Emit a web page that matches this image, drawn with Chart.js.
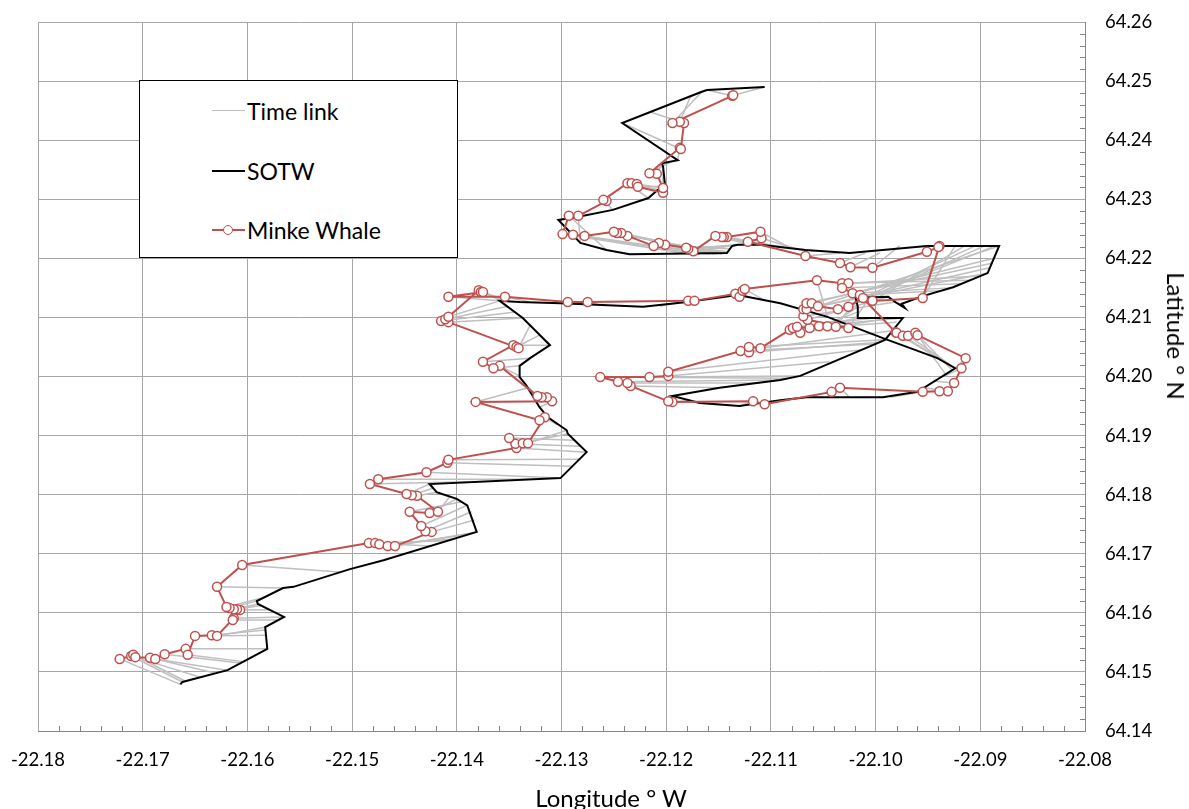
<!DOCTYPE html>
<html>
<head>
<meta charset="utf-8">
<script src="https://cdn.jsdelivr.net/npm/chart.js@4.4.1/dist/chart.umd.min.js"></script>
<style>
  html, body { margin: 0; padding: 0; background: #fff; }
  #wrap { position: relative; width: 1189px; height: 809px; font-family: Lato, "Liberation Sans", sans-serif; color: #000; }
  #chart { position: absolute; left: 0; top: 0; }
  .legend { position: absolute; left: 139px; top: 80px; width: 317px; height: 176px; border: 1px solid #000; background: #fff; }
  .item { position: absolute; left: 72px; height: 30px; display: flex; align-items: center; font-size: 23px; white-space: nowrap; }
  .swatch { position: relative; width: 33px; height: 30px; margin-right: 2px; }
  .swatch .ln { position: absolute; left: 0; right: 0; top: 50%; }
  .swatch .dot { position: absolute; left: 11px; top: 10px; width: 8px; height: 8px; border: 1.5px solid #c0504d; border-radius: 50%; background: #fff; }
  .axis-title { position: absolute; font-size: 24px; white-space: nowrap; line-height: 1; }
</style>
</head>
<body>
<div id="wrap">
  <canvas id="chart" width="1189" height="809"></canvas>
  <div class="legend">
    <div class="item" style="top:15px"><div class="swatch"><div class="ln" style="border-top:1.5px solid #bfbfbf;margin-top:-1px"></div></div>Time link</div>
    <div class="item" style="top:75px"><div class="swatch"><div class="ln" style="border-top:2px solid #000;margin-top:-1px"></div></div>SOTW</div>
    <div class="item" style="top:134px"><div class="swatch"><div class="ln" style="border-top:2px solid #c0504d;margin-top:-1px"></div><div class="dot"></div></div>Minke Whale</div>
  </div>
  <div class="axis-title" id="xTitle" style="left:611px;top:798px;transform:translate(-50%,-50%)">Longitude ° W</div>
  <div class="axis-title" id="yTitle" style="left:1176px;top:336px;transform:translate(-50%,-50%) rotate(90deg)">Latitude ° N</div>
</div>
<script>
// Axis ticks
const xTicks = [-22.18, -22.17, -22.16, -22.15, -22.14, -22.13, -22.12, -22.11, -22.10, -22.09, -22.08];
const yTicks = [64.14, 64.15, 64.16, 64.17, 64.18, 64.19, 64.20, 64.21, 64.22, 64.23, 64.24, 64.25, 64.26];

// Minke whale fixes (in time order)
const whaleLon = [
  -22.1722,-22.1711,-22.1709,-22.1707,-22.1693,-22.1688,-22.1679,-22.1659,-22.1657,-22.1650,
  -22.1634,-22.1629,-22.1613,-22.1614,-22.1607,-22.1610,-22.1613,-22.1617,-22.1620,-22.1629,
  -22.1605,-22.1484,-22.1478,-22.1474,-22.1466,-22.1459,-22.1424,-22.1430,-22.1434,-22.1445,
  -22.1426,-22.1418,-22.1438,-22.1443,-22.1448,-22.1483,-22.1475,-22.1429,-22.1409,-22.1408,
  -22.1343,-22.1344,-22.1350,-22.1337,-22.1332,-22.1316,-22.1321,-22.1382,-22.1309,-22.1314,
  -22.1319,-22.1323,-22.1359,-22.1365,-22.1375,-22.1346,-22.1343,-22.1341,-22.1408,-22.1415,
  -22.1411,-22.1408,-22.1379,-22.1377,-22.1375,-22.1408,-22.1354,-22.1294,-22.1275,-22.1179,
  -22.1173,-22.1134,-22.1130,-22.1127,-22.1125,-22.1056,-22.1032,-22.1026,-22.1032,-22.1022,
  -22.1015,-22.0981,-22.0980,-22.0974,-22.0969,-22.0962,-22.0960,-22.0914,-22.0918,-22.0925,
  -22.0931,-22.0939,-22.0955,-22.1034,-22.1042,-22.1106,-22.1117,-22.1194,-22.1198,-22.1234,
  -22.1237,-22.1246,-22.1263,-22.1216,-22.1198,-22.1198,-22.1129,-22.1121,-22.1121,-22.1110,
  -22.1082,-22.1079,-22.1072,-22.1075,-22.1063,-22.1054,-22.1046,-22.1038,-22.1026,-22.1065,
  -22.1069,-22.1069,-22.1066,-22.1066,-22.1061,-22.1055,-22.1036,-22.1026,-22.1012,-22.1003,
  -22.0955,-22.0939,-22.0940,-22.0951,-22.1003,-22.1024,-22.1034,-22.1067,-22.1122,-22.1109,
  -22.1110,-22.1142,-22.1145,-22.1147,-22.1153,-22.1174,-22.1179,-22.1181,-22.1201,-22.1207,
  -22.1212,-22.1237,-22.1243,-22.1247,-22.1250,-22.1278,-22.1289,-22.1299,-22.1293,-22.1284,
  -22.1257,-22.1260,-22.1237,-22.1233,-22.1228,-22.1227,-22.1203,-22.1203,-22.1209,-22.1216,
  -22.1187,-22.1186,-22.1183,-22.1187,-22.1194,-22.1137,-22.1136
];
const whaleLat = [
  64.1522,64.1527,64.1529,64.1525,64.1524,64.1522,64.1530,64.1539,64.1529,64.1561,
  64.1562,64.1561,64.1591,64.1588,64.1605,64.1606,64.1606,64.1608,64.1610,64.1644,
  64.1681,64.1718,64.1718,64.1716,64.1713,64.1713,64.1737,64.1738,64.1747,64.1771,
  64.1769,64.1771,64.1798,64.1799,64.1801,64.1818,64.1826,64.1838,64.1854,64.1859,
  64.1879,64.1886,64.1896,64.1887,64.1887,64.1931,64.1926,64.1957,64.1958,64.1965,
  64.1965,64.1967,64.2018,64.2014,64.2025,64.2053,64.2050,64.2048,64.2092,64.2094,
  64.2097,64.2101,64.2146,64.2143,64.2143,64.2135,64.2135,64.2126,64.2126,64.2128,
  64.2128,64.2140,64.2135,64.2145,64.2148,64.2163,64.2158,64.2158,64.2150,64.2141,
  64.2138,64.2075,64.2074,64.2069,64.2069,64.2074,64.2070,64.2031,64.2014,64.1989,
  64.1975,64.1975,64.1974,64.1981,64.1974,64.1953,64.1958,64.1957,64.1958,64.1984,
  64.1989,64.1991,64.1999,64.1999,64.2001,64.2008,64.2043,64.2041,64.2050,64.2048,
  64.2079,64.2082,64.2074,64.2084,64.2082,64.2085,64.2085,64.2084,64.2082,64.2096,
  64.2102,64.2114,64.2114,64.2124,64.2124,64.2119,64.2114,64.2118,64.2133,64.2128,
  64.2133,64.2221,64.2219,64.2211,64.2184,64.2185,64.2192,64.2204,64.2228,64.2234,
  64.2245,64.2236,64.2236,64.2236,64.2238,64.2212,64.2216,64.2218,64.2223,64.2226,
  64.2221,64.2238,64.2243,64.2243,64.2245,64.2238,64.2240,64.2241,64.2272,64.2272,
  64.2297,64.2299,64.2327,64.2327,64.2326,64.2321,64.2311,64.2319,64.2343,64.2344,
  64.2387,64.2385,64.2429,64.2431,64.2429,64.2475,64.2476
];

// Ship track (SOTW)
const shipLon = [
  -22.1664,-22.1662,-22.1619,-22.1581,-22.1583,-22.1565,-22.1590,-22.1591,-22.1566,-22.1556,
  -22.1502,-22.1470,-22.1381,-22.1390,-22.1400,-22.1419,-22.1426,-22.1301,-22.1276,-22.1294,
  -22.1295,-22.1313,-22.1321,-22.1334,-22.1340,-22.1340,-22.1330,-22.1311,-22.1337,-22.1359,
  -22.1340,-22.1301,-22.1222,-22.1180,-22.1132,-22.1123,-22.1091,-22.1046,-22.0993,-22.0941,
  -22.0924,-22.0960,-22.0993,-22.1066,-22.1091,-22.1130,-22.1168,-22.1194,-22.1149,-22.1091,
  -22.1072,-22.0991,-22.0974,-22.1017,-22.1017,-22.1019,-22.0988,-22.0981,-22.0972,-22.0975,
  -22.0955,-22.0926,-22.0893,-22.0882,-22.0951,-22.1025,-22.1067,-22.1110,-22.1132,-22.1137,
  -22.1142,-22.1235,-22.1257,-22.1282,-22.1303,-22.1285,-22.1251,-22.1217,-22.1208,-22.1201,
  -22.1203,-22.1204,-22.1189,-22.1242,-22.1166,-22.1161,-22.1106
];
const shipLat = [
  64.1479,64.1483,64.1503,64.1539,64.1576,64.1593,64.1615,64.1620,64.1642,64.1644,
  64.1674,64.1689,64.1737,64.1782,64.1793,64.1804,64.1818,64.1828,64.1872,64.1903,
  64.1909,64.1931,64.1948,64.1986,64.1999,64.2018,64.2031,64.2053,64.2099,64.2128,
  64.2126,64.2124,64.2118,64.2126,64.2138,64.2135,64.2124,64.2101,64.2065,64.2031,
  64.2014,64.1974,64.1965,64.1965,64.1960,64.1950,64.1955,64.1967,64.1981,64.1994,
  64.2001,64.2062,64.2099,64.2099,64.2118,64.2133,64.2135,64.2126,64.2116,64.2123,
  64.2136,64.2151,64.2175,64.2221,64.2221,64.2209,64.2214,64.2223,64.2223,64.2221,
  64.2209,64.2207,64.2214,64.2226,64.2265,64.2270,64.2282,64.2302,64.2316,64.2322,
  64.2355,64.2361,64.2366,64.2429,64.2482,64.2485,64.2490
];

// Ship position at the time of each whale fix
const linkLon = [
  -22.1664,-22.1662,-22.1660,-22.1645,-22.1631,-22.1619,-22.1607,-22.1581,-22.1602,-22.1582,
  -22.1583,-22.1582,-22.1565,-22.1571,-22.1578,-22.1586,-22.1590,-22.1591,-22.1586,-22.1566,
  -22.1512,-22.1426,-22.1411,-22.1402,-22.1391,-22.1381,-22.1383,-22.1386,-22.1390,-22.1395,
  -22.1400,-22.1407,-22.1419,-22.1423,-22.1426,-22.1359,-22.1321,-22.1301,-22.1290,-22.1282,
  -22.1276,-22.1282,-22.1288,-22.1294,-22.1295,-22.1304,-22.1313,-22.1332,-22.1321,-22.1325,
  -22.1330,-22.1334,-22.1338,-22.1340,-22.1330,-22.1311,-22.1321,-22.1330,-22.1337,-22.1344,
  -22.1351,-22.1359,-22.1357,-22.1353,-22.1349,-22.1344,-22.1330,-22.1292,-22.1263,-22.1206,
  -22.1180,-22.1149,-22.1132,-22.1123,-22.1106,-22.1046,-22.0910,-22.0900,-22.0919,-22.0929,
  -22.0939,-22.0941,-22.0934,-22.0929,-22.0924,-22.0927,-22.0932,-22.0924,-22.0934,-22.0943,
  -22.0953,-22.0960,-22.0986,-22.1025,-22.1066,-22.1091,-22.1130,-22.1177,-22.1194,-22.1149,
  -22.1110,-22.1091,-22.1082,-22.1072,-22.1044,-22.1015,-22.1001,-22.0996,-22.0991,-22.0986,
  -22.0980,-22.0974,-22.0986,-22.1001,-22.1017,-22.1017,-22.1017,-22.1019,-22.1005,-22.0988,
  -22.0981,-22.0893,-22.0891,-22.0888,-22.0885,-22.0882,-22.0886,-22.0896,-22.0905,-22.0915,
  -22.0924,-22.0934,-22.0943,-22.0953,-22.0977,-22.0996,-22.1010,-22.1034,-22.1058,-22.1072,
  -22.1082,-22.1091,-22.1101,-22.1110,-22.1120,-22.1130,-22.1134,-22.1137,-22.1139,-22.1141,
  -22.1143,-22.1145,-22.1147,-22.1151,-22.1154,-22.1158,-22.1168,-22.1177,-22.1257,-22.1282,
  -22.1285,-22.1251,-22.1217,-22.1208,-22.1204,-22.1201,-22.1202,-22.1203,-22.1204,-22.1196,
  -22.1189,-22.1242,-22.1216,-22.1177,-22.1166,-22.1161,-22.1106
];
const linkLat = [
  64.1479,64.1483,64.1485,64.1491,64.1498,64.1503,64.1515,64.1539,64.1517,64.1562,
  64.1571,64.1576,64.1593,64.1588,64.1605,64.1613,64.1615,64.1620,64.1625,64.1642,
  64.1669,64.1713,64.1722,64.1725,64.1732,64.1737,64.1757,64.1771,64.1782,64.1788,
  64.1793,64.1796,64.1804,64.1811,64.1818,64.1823,64.1826,64.1828,64.1848,64.1860,
  64.1872,64.1882,64.1892,64.1903,64.1909,64.1918,64.1931,64.1981,64.1948,64.1964,
  64.1974,64.1986,64.1999,64.2018,64.2031,64.2053,64.2070,64.2087,64.2099,64.2109,
  64.2119,64.2128,64.2128,64.2126,64.2126,64.2126,64.2126,64.2124,64.2121,64.2119,
  64.2126,64.2133,64.2138,64.2135,64.2129,64.2101,64.2163,64.2170,64.2157,64.2150,
  64.2145,64.2031,64.2025,64.2019,64.2014,64.2011,64.2001,64.2014,64.2001,64.1992,
  64.1981,64.1974,64.1965,64.1965,64.1965,64.1960,64.1950,64.1960,64.1967,64.1981,
  64.1989,64.1994,64.1997,64.2001,64.2025,64.2045,64.2055,64.2058,64.2062,64.2077,
  64.2092,64.2099,64.2099,64.2099,64.2099,64.2109,64.2118,64.2129,64.2135,64.2135,
  64.2126,64.2175,64.2184,64.2192,64.2201,64.2221,64.2221,64.2221,64.2221,64.2221,
  64.2221,64.2221,64.2221,64.2221,64.2221,64.2209,64.2209,64.2209,64.2212,64.2214,
  64.2218,64.2219,64.2221,64.2223,64.2223,64.2223,64.2223,64.2221,64.2216,64.2211,
  64.2209,64.2209,64.2207,64.2207,64.2207,64.2207,64.2207,64.2207,64.2214,64.2226,
  64.2270,64.2282,64.2302,64.2316,64.2319,64.2322,64.2336,64.2350,64.2361,64.2363,
  64.2366,64.2429,64.2448,64.2473,64.2482,64.2485,64.2490
];

const RED = '#c0504d';
const GRID = '#a6a6a6';
const AXIS = '#868686';
const tickFont = { family: 'Lato, "Liberation Sans", sans-serif', size: 18.5 };

const whalePts = whaleLon.map((x, i) => ({ x, y: whaleLat[i] }));
const shipPts = shipLon.map((x, i) => ({ x, y: shipLat[i] }));

const datasets = [
  {
    label: 'Minke Whale', data: whalePts, order: 0, showLine: true,
    borderColor: RED, borderWidth: 2, pointRadius: 4.5, pointBorderWidth: 1.5,
    pointBackgroundColor: '#fff', pointBorderColor: RED, pointHoverRadius: 4.5
  },
  {
    label: 'SOTW', data: shipPts, order: 1, showLine: true,
    borderColor: '#000', borderWidth: 2, pointRadius: 0, pointHoverRadius: 0
  }
];
// one short segment per whale fix, from the whale to the ship
whaleLon.forEach((x, i) => {
  datasets.push({
    label: 'Time link', data: [{ x, y: whaleLat[i] }, { x: linkLon[i], y: linkLat[i] }],
    order: 2, showLine: true, borderColor: '#bfbfbf', borderWidth: 1.5,
    pointRadius: 0, pointHoverRadius: 0
  });
});

// short inside tick marks between the labelled values
const minorTicks = {
  id: 'minorTicks',
  afterDraw(chart) {
    const { ctx, chartArea: a, scales: { x, y } } = chart;
    ctx.save();
    ctx.strokeStyle = AXIS;
    ctx.lineWidth = 1;
    ctx.beginPath();
    for (let k = 1; k < 50; k++) {
      if (k % 5 === 0) continue;
      const px = Math.round(x.getPixelForValue(-22.18 + k * 0.002)) + 0.5;
      ctx.moveTo(px, a.bottom);
      ctx.lineTo(px, a.bottom - 5);
    }
    for (let k = 1; k < 60; k++) {
      if (k % 5 === 0) continue;
      const py = Math.round(y.getPixelForValue(64.14 + k * 0.002)) + 0.5;
      ctx.moveTo(a.right, py);
      ctx.lineTo(a.right - 5, py);
    }
    ctx.stroke();
    ctx.restore();
  }
};

new Chart(document.getElementById('chart'), {
  type: 'scatter',
  data: { datasets },
  options: {
    responsive: false,
    animation: false,
    devicePixelRatio: 1,
    layout: { padding: { left: 38, top: 22, right: 0, bottom: 0 } },
    plugins: { legend: { display: false }, tooltip: { enabled: false } },
    events: [],
    scales: {
      x: {
        type: 'linear', min: -22.18, max: -22.08,
        afterBuildTicks: s => { s.ticks = xTicks.map(v => ({ value: v })); },
        afterFit: s => { s.height = 78; s.paddingLeft = 0; s.paddingRight = 0; },
        ticks: { callback: v => Number(v).toFixed(2), padding: 18, font: tickFont, color: '#000', maxRotation: 0, autoSkip: false },
        grid: { color: GRID, lineWidth: 1, drawTicks: false },
        border: { display: true, color: AXIS, width: 1 }
      },
      y: {
        type: 'linear', position: 'right', min: 64.14, max: 64.26,
        afterBuildTicks: s => { s.ticks = yTicks.map(v => ({ value: v })); },
        afterFit: s => { s.width = 104; s.paddingTop = 0; s.paddingBottom = 0; },
        ticks: { callback: v => Number(v).toFixed(2), padding: 20, font: tickFont, color: '#000', autoSkip: false },
        grid: { color: GRID, lineWidth: 1, drawTicks: false },
        border: { display: true, color: AXIS, width: 1 }
      }
    }
  },
  plugins: [minorTicks]
});
</script>
</body>
</html>
